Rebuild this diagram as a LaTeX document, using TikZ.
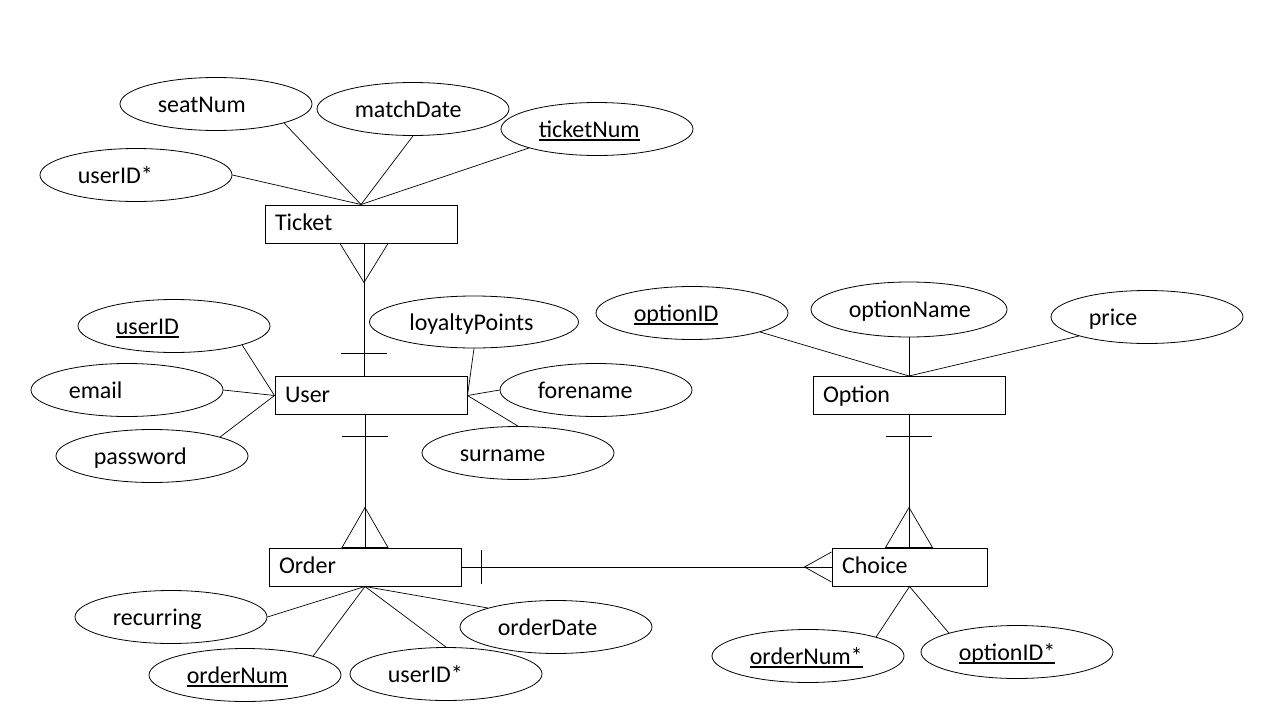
\documentclass[tikz,border=0pt]{standalone}
\usepackage{fontspec}
\setmainfont{Carlito}
\usetikzlibrary{shapes.geometric,calc}
% underlined key attribute
\newcommand\keyattr[1]{\setbox0\hbox{#1}\rlap{\rule[-4pt]{\wd0}{1.6pt}}\box0}
\begin{document}
\begin{tikzpicture}[x=1pt,y=-1pt,
  attr/.style={draw, ellipse, line width=0.8pt, minimum width=192pt, minimum height=53pt, inner sep=0pt},
  attrtext/.style={anchor=west, inner sep=0pt, xshift=38pt, text height=20pt, text depth=4pt,
                   font=\fontsize{24}{28}\selectfont},
  entity/.style={draw, line width=1pt, minimum height=38pt, inner xsep=10pt, inner ysep=0pt,
                 text width=172pt, align=left, text height=18pt, text depth=4.5pt,
                 font=\fontsize{24}{28}\selectfont},
  link/.style={line width=0.7pt},
  rel/.style={line width=1pt}]
\fill[white] (0,0) rectangle (1280,720);
\useasboundingbox (0,0) rectangle (1280,720);

% entities
\node[entity] (ticket) at (361,224) {Ticket};
\node[entity] (user)   at (371,395.5) {User};
\node[entity] (option) at (909,395.5) {Option};
\node[entity] (order)  at (365,567) {Order};
\node[entity, text width=135pt] (choice) at (909.5,567) {Choice};

% Ticket attributes
\node[attr, label={[attrtext]west:seatNum}] (seatNum) at (216,104) {};
\node[attr, label={[attrtext]west:matchDate}] (matchDate) at (413,109) {};
\node[attr, label={[attrtext]west:\keyattr{ticketNum}}] (ticketNum) at (597,129) {};
\node[attr, label={[attrtext]west:userID*}] (tUserID) at (136,175) {};

% User attributes
\node[attr, label={[attrtext]west:\keyattr{userID}}] (uUserID) at (174,326) {};
\node[attr, label={[attrtext]west:email}] (email) at (127,390) {};
\node[attr, label={[attrtext]west:password}] (password) at (152,456) {};
\node[attr, minimum width=209pt, minimum height=52pt, label={[attrtext, xshift=2pt]west:loyaltyPoints}] (loyalty) at (474,322) {};
\node[attr, label={[attrtext]west:forename}] (forename) at (596,390) {};
\node[attr, label={[attrtext]west:surname}] (surname) at (518,453) {};

% Option attributes
\node[attr, label={[attrtext]west:\keyattr{optionID}}] (optionID) at (692,313) {};
\node[attr, minimum width=196pt, minimum height=55pt, label={[attrtext]west:optionName}] (optionName) at (909,309.5) {};
\node[attr, label={[attrtext]west:price}] (price) at (1147,317) {};

% Order attributes
\node[attr, label={[attrtext]west:recurring}] (recurring) at (171,617) {};
\node[attr, label={[attrtext]west:orderDate}] (orderDate) at (556,627) {};
\node[attr, label={[attrtext]west:\keyattr{orderNum}}] (orderNum) at (245,675) {};
\node[attr, label={[attrtext]west:userID*}] (oUserID) at (446,674) {};

% Choice attributes
\node[attr, label={[attrtext]west:\keyattr{orderNum*}}] (cOrderNum) at (808,656) {};
\node[attr, label={[attrtext]west:\keyattr{optionID*}}] (cOptionID) at (1017,652) {};

% attribute links
\draw[link] (tUserID.east) -- (ticket.north);
\draw[link] (seatNum.south east) -- (ticket.north);
\draw[link] (matchDate.south) -- (ticket.north);
\draw[link] (ticketNum.south west) -- (ticket.north);

\draw[link] (uUserID.south east) -- (user.west);
\draw[link] (email.east) -- (user.west);
\draw[link] (password.north east) -- (user.west);
\draw[link] (loyalty.south) -- (user.east);
\draw[link] (forename.west) -- (user.east);
\draw[link] (surname.north) -- (user.east);

\draw[link] (optionID.south east) -- (option.north);
\draw[link] (optionName.south) -- (option.north);
\draw[link] (price.south west) -- (option.north);

\draw[link] (recurring.east) -- (order.south);
\draw[link] (orderNum.north east) -- (order.south);
\draw[link] (oUserID.north) -- (order.south);
\draw[link] (orderDate.north west) -- (order.south);

\draw[link] (cOrderNum.north east) -- (choice.south);
\draw[link] (cOptionID.north west) -- (choice.south);

% User (one) -- Ticket (many)
\coordinate (tuTop) at ($(ticket.south)+(3,0)$);
\coordinate (tuBot) at (tuTop |- user.north);
\draw[rel] (tuTop) -- (tuBot);
\draw[link] ($(tuTop)+(-24,0)$) -- ($(tuTop)+(0,39)$) -- ($(tuTop)+(24,0)$);
\draw[rel] ($(tuBot)+(-23,-23)$) -- ($(tuBot)+(23,-23)$);

% User (one) -- Order (many)
\coordinate (uoTop) at (order.north |- user.south);
\draw[rel] (uoTop) -- (order.north);
\draw[rel] ($(uoTop)+(-23,21)$) -- ($(uoTop)+(23,21)$);
\draw[link] ($(order.north)+(-23,0)$) -- ($(order.north)+(0,-40)$) -- ($(order.north)+(23,0)$) -- cycle;

% Option (one) -- Choice (many)
\coordinate (ocBot) at (option.south |- choice.north);
\draw[rel] (option.south) -- (ocBot);
\draw[rel] ($(option.south)+(-23,21)$) -- ($(option.south)+(23,21)$);
\draw[link] ($(ocBot)+(-23.5,0)$) -- ($(ocBot)+(0,-40)$) -- ($(ocBot)+(23.5,0)$) -- cycle;

% Order (one) -- Choice (many)
\draw[rel] (order.east) -- (choice.west);
\draw[rel] ($(order.east)+(20,-17)$) -- ($(order.east)+(20,17)$);
\draw[link] ($(choice.west)+(0,-15)$) -- ($(choice.west)+(-27,0)$) -- ($(choice.west)+(0,15)$);
\end{tikzpicture}
\end{document}
